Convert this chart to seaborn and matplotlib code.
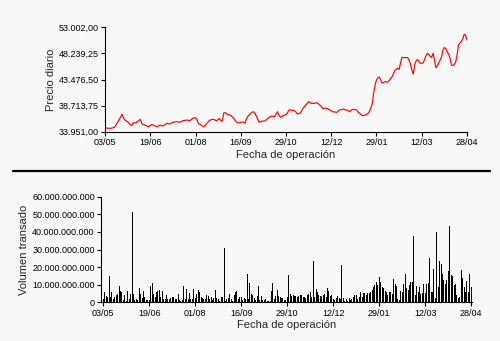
import numpy as np
import pandas as pd
import matplotlib
matplotlib.use("Agg")
import matplotlib.pyplot as plt
import seaborn as sns
from matplotlib.lines import Line2D

# Daily closing price, one value per trading session
price = [
    34750, 34660, 34570, 34570, 34580, 34590, 34720, 34860, 35260, 35670,
    36180, 36600, 37130, 36540, 36090, 35900, 35780, 35480, 35260, 35050,
    35630, 35540, 35580, 35810, 35990, 36210, 35450, 35270, 35170, 35080,
    34940, 34860, 35080, 35260, 35170, 35050, 34960, 34860, 35030, 35170,
    35060, 34990, 35170, 35360, 35480, 35430, 35360, 35540, 35670, 35700,
    35760, 35780, 35720, 35670, 35810, 35960, 35990, 36050, 36090, 36010,
    35960, 36180, 36400, 36450, 36510, 36180, 35480, 35320, 35170, 34960,
    34860, 35170, 35450, 35760, 36030, 36120, 36200, 36160, 36050, 35960,
    36180, 36360, 35900, 35960, 37360, 37450, 37180, 37090, 37000, 36910,
    36630, 36450, 35960, 35720, 35590, 35590, 35630, 35720, 35690, 35480,
    36270, 36760, 37000, 37270, 37510, 37600, 37330, 36820, 36270, 35670,
    35760, 35900, 35870, 35900, 36090, 36360, 36540, 36670, 36820, 36730,
    36690, 37180, 37600, 37000, 36580, 36730, 36870, 37000, 37090, 37360,
    37910, 37910, 37870, 37820, 37780, 37550, 37180, 37270, 37310, 37730,
    38220, 38540, 38820, 39130, 39430, 39280, 39130, 39130, 39130, 39190,
    39240, 39010, 38820, 38550, 38220, 38220, 38220, 38220, 38050, 37910,
    37770, 37600, 37570, 37550, 37490, 37730, 37910, 37980, 38040, 38060,
    37910, 37910, 37770, 37600, 37820, 38000, 38040, 37980, 37910, 37550,
    37310, 37090, 36910, 36870, 37000, 37130, 37270, 37640, 38280, 39010,
    41010, 42470, 43380, 43750, 43930, 43380, 42840, 42930, 43080, 43020,
    42980, 43290, 43660, 43990, 44480, 45120, 45390, 45480, 45300, 46490,
    47530, 47490, 47460, 47490, 47490, 47040, 46310, 45210, 44480, 46120,
    46850, 47120, 46760, 46430, 46430, 46490, 47120, 47850, 48260, 48040,
    47680, 47490, 48260, 47040, 45630, 45940, 46490, 47040, 47580, 48860,
    49320, 49140, 48550, 48130, 47400, 46120, 46030, 46210, 46670, 47950,
    49770, 50140, 50410, 50910, 51730, 51600, 50690,
]

# Traded volume per session, in thousands of millions
volume_bn = [
    2, 6, 3.5, 3, 15, 3, 6, 2, 3, 4,
    5, 9, 6.5, 6, 1.5, 4, 1, 6.5, 2, 5,
    51.5, 4.5, 1.5, 2, 1.5, 8, 4.5, 2.5, 6.5, 3,
    1.5, 1.5, 1.5, 9, 11, 5, 3, 6, 6.5, 7,
    3, 6.5, 2, 2, 4, 2, 2, 2.5, 3, 3,
    2, 2, 4.5, 1.5, 1, 1.5, 9, 2, 7.5, 2,
    5.5, 2, 2, 7.5, 2.5, 4.5, 7, 6, 3, 2.5,
    2, 2, 4, 3.5, 2, 3, 1.5, 2.5, 7, 2.5,
    2, 1, 3, 3, 31, 1, 2, 2.5, 5, 2,
    1, 4, 6, 6.5, 2, 3, 3, 1.5, 2.5, 2,
    16, 2, 11, 5, 4, 2.5, 1.5, 3.5, 9.3, 1.5,
    3.8, 1.5, 1.5, 2, 0.5, 0.5, 1, 6.6, 10.8, 2,
    3.5, 7, 3.5, 3, 2.5, 2.5, 1.5, 1.5, 3, 15.5,
    5, 3.5, 4, 3.5, 3.5, 2.8, 3.5, 4, 4, 2.8,
    3.2, 2.5, 4, 5, 6, 3.2, 23.6, 3.2, 7.5, 6,
    4, 3.5, 3.5, 4, 5, 3, 8, 6.5, 3.5, 4,
    2, 1.5, 2.5, 3.5, 2.5, 2, 21, 2.5, 1, 1.9,
    0.8, 2.3, 1.1, 1.9, 3.2, 4.2, 4.2, 1.9, 3.2, 5.7,
    3.2, 5.1, 5.1, 4.2, 5.1, 5.1, 6, 7, 8.9, 9.8,
    11.3, 9.8, 14.4, 11.3, 8.9, 8.3, 6.4, 6, 4.2, 6,
    5.7, 4.5, 13.2, 10.2, 9.5, 1.9, 1.3, 6.6, 6, 10.2,
    16.3, 7.9, 7, 9.8, 11.3, 11.3, 37.8, 4.2, 9.5, 6,
    8.5, 4.7, 5.1, 10.2, 5.1, 10.4, 11, 25.3, 6, 6,
    19, 2.3, 40, 8.9, 23.5, 22, 16, 12.5, 10.2, 12.9,
    17.8, 43.3, 15.5, 15, 9.8, 10.4, 4.2, 2.3, 3.2, 18.3,
    13.6, 8.7, 6, 12.1, 6, 16.3, 8.9,
]

date_labels = ["03/05", "19/06", "01/08", "16/09", "29/10",
               "12/12", "29/01", "12/03", "28/04"]
price_ticks = [33951.00, 38713.75, 43476.50, 48239.25, 53002.00]
volume_ticks = [0, 10e9, 20e9, 30e9, 40e9, 50e9, 60e9]


def es_number(value, decimals):
    text = f"{value:,.{decimals}f}"
    return text.replace(",", "#").replace(".", ",").replace("#", ".")


df = pd.DataFrame({
    "session": np.arange(len(price)),
    "price": price,
    "volume": np.array(volume_bn) * 1e9,
})
step = (len(df) - 1) // (len(date_labels) - 1)
tick_pos = np.arange(len(date_labels)) * step

sns.set_theme(style="ticks")
bg = "#f8f8f8"
plt.rcParams["font.family"] = ["Liberation Sans", "DejaVu Sans"]
plt.rcParams.update({
    "figure.facecolor": bg,
    "axes.facecolor": bg,
    "axes.edgecolor": "black",
    "axes.linewidth": 0.8,
    "xtick.color": "black",
    "ytick.color": "black",
    "xtick.major.size": 3,
    "ytick.major.size": 3,
    "xtick.major.width": 0.8,
    "ytick.major.width": 0.8,
    "xtick.major.pad": 1.5,
    "ytick.major.pad": 1.5,
})

W, H = 500, 341
fig = plt.figure(figsize=(W / 100, H / 100), dpi=100)

# Upper panel: daily price
ax1 = fig.add_axes([105 / W, 1 - 131.7 / H, 362 / W, 104.4 / H])
sns.lineplot(data=df, x="session", y="price", color="red",
             linewidth=0.85, ax=ax1)
ax1.set_xlim(0, len(df) - 1)
ax1.set_ylim(price_ticks[0], price_ticks[-1])
ax1.set_yticks(price_ticks)
ax1.set_yticklabels([es_number(v, 2) for v in price_ticks], fontsize=6.5)
ax1.set_xticks(tick_pos)
ax1.set_xticklabels(date_labels, fontsize=6.5)
ax1.set_xlabel("Fecha de operación", fontsize=8, labelpad=2)
ax1.set_ylabel("Precio diario", fontsize=8)
ax1.yaxis.set_label_coords(-0.135, 0.5)
sns.despine(ax=ax1)

# Lower panel: traded volume
ax2 = fig.add_axes([101 / W, 1 - 302.3 / H, 371 / W, 105.6 / H])
sns.barplot(data=df, x="session", y="volume", native_scale=True,
            color="black", width=0.7, errorbar=None, linewidth=0,
            saturation=1, ax=ax2)
for patch in ax2.patches:
    patch.set_antialiased(False)
ax2.set_xlim(-1.6, len(df) - 1 + 0.5)
ax2.set_ylim(0, volume_ticks[-1])
ax2.set_yticks(volume_ticks)
ax2.set_yticklabels([es_number(v, 0) for v in volume_ticks], fontsize=6.5)
ax2.set_xticks(tick_pos)
ax2.set_xticklabels(date_labels, fontsize=6.5)
ax2.set_xlabel("Fecha de operación", fontsize=8, labelpad=2)
ax2.set_ylabel("Volumen transado", fontsize=8)
ax2.yaxis.set_label_coords(-0.195, 0.5)
sns.despine(ax=ax2)

# Divider between the two panels
fig.add_artist(Line2D([13 / W, 490 / W], [1 - 171 / H, 1 - 171 / H],
                      color="black", linewidth=1.6,
                      transform=fig.transFigure))

fig.savefig("out.png", dpi=100, facecolor=bg)
